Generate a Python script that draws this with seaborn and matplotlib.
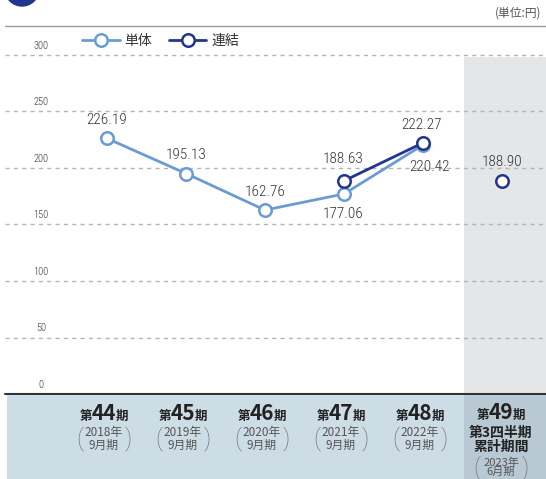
import numpy as np
import pandas as pd
import seaborn as sns
import matplotlib.pyplot as plt
from matplotlib import transforms
from matplotlib.lines import Line2D
from matplotlib.patches import Circle

# data
periods = ["44", "45", "46", "47", "48", "49"]
years = ["2018年", "2019年", "2020年", "2021年", "2022年", "2023年"]
months = ["9月期", "9月期", "9月期", "9月期", "9月期", "6月期"]
tantai = [226.19, 195.13, 162.76, 177.06, 220.42]          # 単体, 44-48期
renketsu = [np.nan, np.nan, np.nan, 188.63, 222.27]        # 連結, 44-48期
renketsu_q3 = [188.90]                                     # 連結, 49期 第3四半期累計
y_ticks = [0, 50, 100, 150, 200, 250, 300]

LIGHT = "#6b9bd3"
NAVY = "#22358f"
W, H = 546, 479

sns.set_style("white")
plt.rcParams["font.family"] = ["Noto Sans CJK JP", "DejaVu Sans"]
NARROW = ["Roboto Condensed", "Liberation Sans Narrow", "Roboto"]


def dx(px):
    # pixel column -> data x
    return (px - 107) / 79


fig = plt.figure(figsize=(W / 100, H / 100), dpi=100)
ax = fig.add_axes([5 / W, (H - 394) / H, 541 / W, 339 / H])
ax.set_xlim(dx(5), dx(546))
ax.set_ylim(0, 300)
ax.axis("off")

# shaded last column
ax.axvspan(dx(464), dx(546), ymax=298 / 300, color="#e5e6e8", zorder=0, lw=0)

# dashed grid + tick labels
for t in y_ticks[1:]:
    ax.axhline(t, color="#b5b5b5", lw=1, ls=(0, (3, 3)), zorder=1, clip_on=False)
for t in y_ticks:
    ax.annotate(str(t), (dx(41), t), xytext=(0, 3), textcoords="offset points",
                ha="center", va="bottom", fontsize=7.5, color="#333333",
                family=NARROW, fontweight="light")
ax.axhline(0, color="#333333", lw=1.5, zorder=3, clip_on=False)

df = pd.DataFrame({"x": np.arange(5), "単体": tantai, "連結": renketsu})
mk = dict(marker="o", markersize=9, markerfacecolor="white", markeredgewidth=1.8, lw=2)
sns.lineplot(data=df, x="x", y="単体", color=LIGHT, markeredgecolor=LIGHT,
             label="単体", ax=ax, zorder=4, **mk)
sns.lineplot(data=df.dropna(), x="x", y="連結", color=NAVY, markeredgecolor=NAVY,
             label="連結", ax=ax, zorder=5, **mk)
sns.scatterplot(x=[5], y=renketsu_q3, marker="o", s=81, facecolor="white",
                edgecolor=NAVY, linewidth=1.8, ax=ax, zorder=5)

# value labels (pixel offsets)
offs_t = [(0, 18), (0, 19), (0, 18), (-1, -20), (7, -22)]
offs_r = [None, None, None, (-1, 22), (-1, 18)]
lab = dict(textcoords="offset points", ha="center", va="center", fontsize=11,
           color="#333333", family=NARROW, fontweight="light", zorder=6)
for i, v in enumerate(tantai):
    ax.annotate(f"{v:.2f}", (i, v), xytext=(offs_t[i][0] * .72, offs_t[i][1] * .72), **lab)
for i, v in enumerate(renketsu):
    if offs_r[i] is not None:
        ax.annotate(f"{v:.2f}", (i, v), xytext=(offs_r[i][0] * .72, offs_r[i][1] * .72), **lab)
ax.annotate(f"{renketsu_q3[0]:.2f}", (5, renketsu_q3[0]), xytext=(0, 19 * .72), **lab)

handles, labels = ax.get_legend_handles_labels()
ax.legend(handles[:2], labels[:2], ncol=2, frameon=False, loc="center left",
          bbox_to_anchor=(82 / W, 1 - 41 / H), bbox_transform=fig.transFigure,
          borderpad=0, borderaxespad=0, handlelength=2.7, handletextpad=0.35,
          columnspacing=1.2, numpoints=1, fontsize=10, labelcolor="#333333")

# header: rule, unit, badge
fig.add_artist(Line2D([5 / W, 1], [1 - 26 / H] * 2, transform=fig.transFigure,
                      color="#9a9a9a", lw=1))
fig.text(541 / W, 1 - 13 / H, "(単位:円)", ha="right", va="center",
         fontsize=8.5, color="#555555")
fig.add_artist(Circle((22, H + 11), 17, transform=None, color="#22358f"))

# bottom band with period labels
band = fig.add_axes([0, 0, 1, 84 / H])
band.set_xlim(dx(0), dx(546))
band.set_ylim(479, 395)
band.axis("off")
band.axvspan(dx(7), dx(464), color="#cddde6", lw=0)
band.axvspan(dx(464), dx(546), color="#b9c9d3", lw=0)

rend = fig.canvas.get_renderer()
dark = "#222222"
grey = "#555555"


def period_label(xc, num, yb):
    t = band.text(xc, yb, num, ha="center", va="baseline", fontsize=15,
                  fontweight="bold", color=dark)
    w = t.get_window_extent(renderer=rend).width
    left = transforms.offset_copy(band.transData, fig, x=-w / 2 + 1, y=0, units="dots")
    right = transforms.offset_copy(band.transData, fig, x=w / 2 - 1, y=0, units="dots")
    band.text(xc, yb, "第", ha="right", va="baseline", fontsize=9,
              fontweight="bold", color=dark, transform=left)
    band.text(xc, yb, "期", ha="left", va="baseline", fontsize=9,
              fontweight="bold", color=dark, transform=right)


def paren_block(xc, ym, yr, mo, size, ls):
    band.text(xc, ym, f"{yr}\n{mo}", ha="center", va="center", ma="center",
              fontsize=size, color=grey, linespacing=ls)
    for sign, ch in ((-1, "("), (1, ")")):
        band.text(xc + sign * 24.5 / 79, ym, ch, ha="center", va="center",
                  fontsize=17, color="#6a6a6a", family="Roboto", fontweight="light")


for i in range(5):
    xc = i - 3 / 79
    period_label(xc, periods[i], 420)
    paren_block(xc, 438.5, years[i], months[i], 8.5, 1.0)

xc = dx(501)
period_label(xc, periods[5], 419)
band.text(xc, 440, "第3四半期\n累計期間", ha="center", va="center", ma="center",
          fontsize=10, fontweight="bold", color=dark, linespacing=1.0)
paren_block(xc, 467.5, years[5], months[5], 8, 0.9)

fig.savefig("out.png", dpi=100)
